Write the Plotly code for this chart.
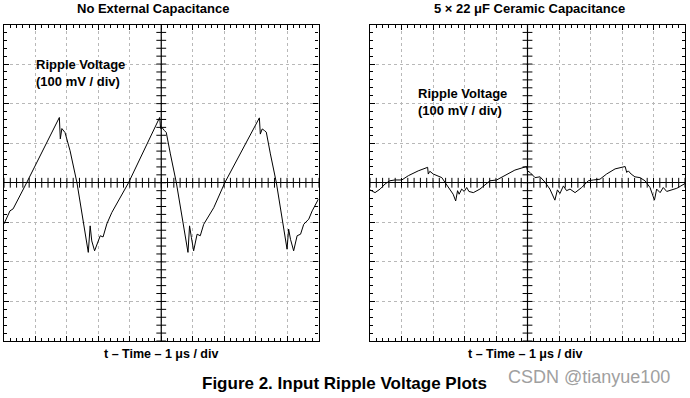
import numpy as np
import plotly.graph_objects as go

# Left panel: no external capacitance (time in us, ripple in mV)
t_left = [0.00, 0.10, 0.19, 0.29, 0.72, 1.76, 1.79, 1.84, 1.89, 1.94, 2.10, 2.32, 2.68, 2.74, 2.79,
          2.88, 3.06, 3.15, 3.27, 3.43, 3.96, 4.95, 4.98, 5.03, 5.10, 5.16, 5.29, 5.48, 5.85, 5.90,
          5.96, 6.03, 6.14, 6.24, 6.35, 6.56, 6.67, 7.02, 8.12, 8.15, 8.21, 8.28, 8.34, 8.47, 8.66,
          9.00, 9.05, 9.11, 9.21, 9.32, 9.43, 9.53, 9.69, 9.80, 10.00]
v_left = [-104, -84, -71, -66, 0, 165, 111, 137, 132, 127, 81, 0, -176, -109, -147,
          -172, -134, -137, -104, -75, 0, 165, 137, 139, 132, 127, 73, 0, -176, -109,
          -139, -172, -130, -134, -105, -75, -63, 0, 164, 123, 136, 132, 128, 73, 0,
          -168, -117, -143, -172, -134, -130, -105, -92, -71, -41]

# Right panel: 5 x 22 uF ceramic capacitance
t_right = [0.00, 0.16, 0.32, 0.48, 0.63, 0.79, 1.01, 1.22, 1.53, 1.83, 1.85, 1.90, 2.01, 2.12, 2.28,
           2.38, 2.54, 2.64, 2.72, 2.78, 2.83, 2.91, 2.99, 3.07, 3.14, 3.28, 3.49, 3.70, 3.81, 4.02,
           4.29, 4.60, 4.97, 5.00, 5.08, 5.24, 5.40, 5.56, 5.71, 5.87, 5.95, 6.03, 6.14, 6.24, 6.35,
           6.51, 6.72, 6.93, 7.09, 7.30, 7.51, 7.78, 8.10, 8.15, 8.20, 8.29, 8.41, 8.57, 8.73, 8.89,
           9.03, 9.10, 9.21, 9.31, 9.42, 9.58, 9.74, 9.87, 10.00]
v_right = [-18, -25, -16, -3, 5, 7, 7, 18, 30, 39, 22, 29, 22, 18, 13,
           1, -16, -29, -46, -20, -29, -16, -22, -12, -22, -25, -16, -2, 5, 7,
           18, 32, 41, 30, 26, 13, 15, 1, -16, -44, -18, -27, -8, -20, -16,
           -25, -12, 5, 7, 9, 22, 35, 41, 26, 30, 22, 15, 13, 5, -12,
           -44, -16, -25, -12, -22, -18, -14, -8, -2]

titles = ["No External Capacitance", "5 \u00d7 22 \u03bcF Ceramic Capacitance"]
xlabel = "t \u2013 Time \u2013 1 \u03bcs / div"
inner_label = "Ripple Voltage<br>(100 mV / div)"
caption = "Figure 2. Input Ripple Voltage Plots"
watermark = "CSDN @tianyue100"

W, H = 690, 398
FONT = "Liberation Sans, Arial, sans-serif"

fig = go.Figure()
fig.add_trace(go.Scatter(x=t_left, y=v_left, mode="lines", line=dict(color="black", width=1),
                         xaxis="x", yaxis="y", hoverinfo="skip"))
fig.add_trace(go.Scatter(x=t_right, y=v_right, mode="lines", line=dict(color="black", width=1),
                         xaxis="x2", yaxis="y2", hoverinfo="skip"))

# crosshair tick marks (graticule decoration)
minor_t = np.round(np.arange(0, 10.001, 0.2), 2)
minor_v = np.arange(-400, 401, 20)
for xa, ya in [("x", "y"), ("x2", "y2")]:
    fig.add_trace(go.Scatter(x=minor_t, y=np.zeros(len(minor_t)), mode="markers",
                             marker=dict(symbol="line-ns", size=7, line=dict(color="black", width=1)),
                             xaxis=xa, yaxis=ya, hoverinfo="skip"))
    fig.add_trace(go.Scatter(x=np.full(len(minor_v), 5.0), y=minor_v, mode="markers",
                             marker=dict(symbol="line-ew", size=7, line=dict(color="black", width=1)),
                             xaxis=xa, yaxis=ya, hoverinfo="skip"))
    fig.add_shape(type="line", xref=xa, yref=f"{ya} domain", x0=5, x1=5, y0=0, y1=1,
                  line=dict(color="black", width=1.2))

ydom = [1 - 341 / H, 1 - 24.5 / H]
xdom_l = [4 / W, 318.5 / W]
xdom_r = [370 / W, 685 / W]

def xax(dom, anchor):
    return dict(domain=dom, anchor=anchor, range=[0, 10], dtick=1, tick0=0,
                showgrid=True, gridcolor="#b8b8b8", griddash="dot", gridwidth=1,
                showline=True, linecolor="black", linewidth=1.2, mirror="allticks",
                ticks="inside", ticklen=5, tickcolor="black", showticklabels=False,
                zeroline=False, fixedrange=True,
                minor=dict(ticks="inside", ticklen=3, tickcolor="black", dtick=0.2, showgrid=False))

def yax(anchor):
    return dict(domain=ydom, anchor=anchor, range=[-400, 400], dtick=100, tick0=0,
                showgrid=True, gridcolor="#b8b8b8", griddash="dot", gridwidth=1,
                showline=True, linecolor="black", linewidth=1.2, mirror="allticks",
                ticks="inside", ticklen=5, tickcolor="black", showticklabels=False,
                zeroline=True, zerolinecolor="black", zerolinewidth=1.2, fixedrange=True,
                minor=dict(ticks="inside", ticklen=3, tickcolor="black", dtick=20, showgrid=False))

def centered(text, cx, cy, size, color="black"):
    return dict(text=text, x=cx / W, y=1 - cy / H, xref="paper", yref="paper",
                xanchor="center", yanchor="middle", showarrow=False,
                font=dict(size=size, color=color, family=FONT))

annotations = [
    centered(f"<b>{titles[0]}</b>", 153, 8.5, 13),
    centered(f"<b>{titles[1]}</b>", 529, 8.5, 13),
    centered(f"<b>{xlabel}</b>", 161, 354, 12.5),
    centered(f"<b>{xlabel}</b>", 525, 354, 12.5),
    dict(text=f"<b>{inner_label}</b>", x=34 / W, y=1 - 55 / H, xref="paper", yref="paper",
         xanchor="left", yanchor="top", align="left", showarrow=False,
         font=dict(size=13, color="black", family=FONT)),
    dict(text=f"<b>{inner_label}</b>", x=415.5 / W, y=1 - 84 / H, xref="paper", yref="paper",
         xanchor="left", yanchor="top", align="left", showarrow=False,
         font=dict(size=13, color="black", family=FONT)),
    centered(f"<b>{caption}</b>", 344, 383, 17),
    centered(watermark, 589, 377, 18, "#a0a0a0"),
]

fig.update_layout(
    width=W, height=H, margin=dict(l=0, r=0, t=0, b=0),
    paper_bgcolor="white", plot_bgcolor="white", showlegend=False,
    xaxis=xax(xdom_l, "y"), yaxis=yax("x"),
    xaxis2=xax(xdom_r, "y2"), yaxis2=yax("x2"),
    annotations=annotations,
)

fig.write_html("out.html", config={"displayModeBar": False},
               post_script="document.body.style.margin='0px';document.body.style.padding='0px';")
